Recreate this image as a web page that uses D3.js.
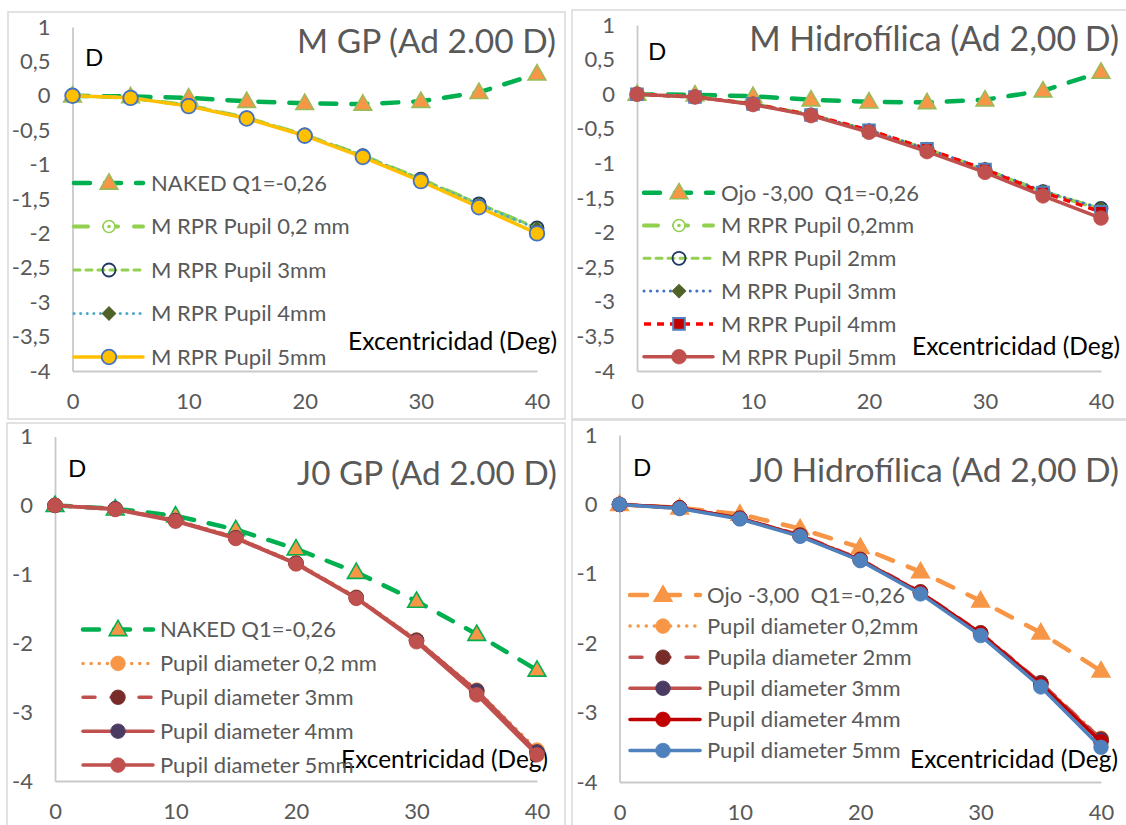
<!DOCTYPE html>
<html>
<head>
<meta charset="utf-8">
<script src="https://cdn.jsdelivr.net/npm/d3@7"></script>
<style>
  body { margin: 0; background: #fff; }
  svg { display: block; }
  text { font-family: Lato, "Noto Sans", sans-serif; }
</style>
</head>
<body>
<svg id="chart" width="1126" height="825"></svg>
<script>
// Eccentricity (degrees) sampled for every series
const eccentricity = [0, 5, 10, 15, 20, 25, 30, 35, 40];
const xTicks = [0, 10, 20, 30, 40];
const yTicksM = [1, 0.5, 0, -0.5, -1, -1.5, -2, -2.5, -3, -3.5, -4];
const yTicksJ0 = [1, 0, -1, -2, -3, -4];

// M, GP lens (Ad 2.00 D)
const mGpLabels = ["NAKED Q1=-0,26", "M RPR Pupil 0,2 mm", "M RPR Pupil 3mm", "M RPR Pupil 4mm", "M RPR Pupil 5mm"];
const mGpNaked   = [0, -0.01, -0.03, -0.08, -0.11, -0.12, -0.08, 0.05, 0.32];
const mGpPupil02 = [0, -0.03, -0.14, -0.32, -0.57, -0.87, -1.21, -1.57, -1.93];
const mGpPupil3  = [0, -0.03, -0.14, -0.32, -0.57, -0.87, -1.21, -1.57, -1.92];
const mGpPupil4  = [0, -0.03, -0.14, -0.32, -0.57, -0.87, -1.22, -1.58, -1.93];
const mGpPupil5  = [0, -0.03, -0.15, -0.33, -0.58, -0.89, -1.24, -1.62, -2.00];

// M, hydrophilic lens (Ad 2,00 D)
const mHidLabels = ["Ojo -3,00  Q1=-0,26", "M RPR Pupil 0,2mm", "M RPR Pupil 2mm", "M RPR Pupil 3mm", "M RPR Pupil 4mm", "M RPR Pupil 5mm"];
const mHidEye     = [0, -0.01, -0.03, -0.08, -0.11, -0.12, -0.08, 0.05, 0.32];
const mHidPupil02 = [0, -0.04, -0.14, -0.30, -0.53, -0.80, -1.09, -1.41, -1.66];
const mHidPupil2  = [0, -0.04, -0.14, -0.30, -0.53, -0.80, -1.09, -1.41, -1.65];
const mHidPupil3  = [0, -0.04, -0.14, -0.30, -0.52, -0.79, -1.08, -1.40, -1.65];
const mHidPupil4  = [0, -0.04, -0.14, -0.30, -0.52, -0.79, -1.09, -1.42, -1.70];
const mHidPupil5  = [0, -0.04, -0.15, -0.31, -0.55, -0.83, -1.13, -1.47, -1.79];

// J0, GP lens (Ad 2.00 D)
const j0GpLabels = ["NAKED Q1=-0,26", "Pupil diameter 0,2 mm", "Pupil diameter 3mm", "Pupil diameter 4mm", "Pupil diameter 5mm"];
const j0GpNaked   = [0, -0.05, -0.15, -0.35, -0.63, -0.97, -1.39, -1.87, -2.39];
const j0GpPupil02 = [0, -0.05, -0.21, -0.46, -0.83, -1.33, -1.95, -2.68, -3.55];
const j0GpPupil3  = [0, -0.05, -0.22, -0.47, -0.84, -1.34, -1.96, -2.70, -3.58];
const j0GpPupil4  = [0, -0.05, -0.22, -0.47, -0.84, -1.34, -1.96, -2.69, -3.58];
const j0GpPupil5  = [0, -0.06, -0.23, -0.48, -0.85, -1.35, -1.98, -2.75, -3.62];

// J0, hydrophilic lens (Ad 2,00 D)
const j0HidLabels = ["Ojo -3,00  Q1=-0,26", "Pupil diameter 0,2mm", "Pupila diameter 2mm", "Pupil diameter 3mm", "Pupil diameter 4mm", "Pupil diameter 5mm"];
const j0HidEye     = [0, -0.05, -0.14, -0.35, -0.62, -0.97, -1.39, -1.85, -2.40];
const j0HidPupil02 = [0, -0.05, -0.20, -0.44, -0.79, -1.26, -1.85, -2.57, -3.37];
const j0HidPupil2  = [0, -0.05, -0.20, -0.44, -0.79, -1.26, -1.85, -2.57, -3.38];
const j0HidPupil3  = [0, -0.05, -0.20, -0.45, -0.80, -1.27, -1.86, -2.58, -3.40];
const j0HidPupil4  = [0, -0.05, -0.20, -0.45, -0.80, -1.27, -1.86, -2.59, -3.42];
const j0HidPupil5  = [0, -0.06, -0.21, -0.46, -0.81, -1.29, -1.89, -2.63, -3.50];

// ---- series styles ----
const S = {
  nakedGreen:  { stroke: "#00B050", width: 4.5, dash: "16,15", cap: "round", marker: "triangle", fill: "#F79646", mStroke: "#9BBB59" },
  nakedGreen2: { stroke: "#00B050", width: 4.5, dash: "16,15", cap: "round", marker: "triangle", fill: "#F79646", mStroke: "#00B050" },
  eyeOrange:   { stroke: "#F79646", width: 4.5, dash: "17,16", cap: "round", marker: "triangle", fill: "#F79646", mStroke: "#F79646" },
  lgLong:      { stroke: "#92D050", width: 4,   dash: "14,16", cap: "round", marker: "ringDot", fill: "#fff", mStroke: "#92D050" },
  lgDash:      { stroke: "#92D050", width: 3,   dash: "6,6",   cap: "round", marker: "ring", fill: "none", mStroke: "#203864" },
  tealDot:     { stroke: "#4BACC6", width: 3,   dash: "0.1,6.5", cap: "round", marker: "diamond", fill: "#4F6228", mStroke: "#4F6228" },
  blueDot:     { stroke: "#4472C4", width: 3,   dash: "0.1,6.5", cap: "round", marker: "diamond", fill: "#4F6228", mStroke: "#4F6228" },
  yellow:      { stroke: "#FFC000", width: 3.5, dash: null, cap: "round", marker: "circle", fill: "#FFC000", mStroke: "#4472C4" },
  redDash:     { stroke: "#FF0000", width: 3.5, dash: "7,6", cap: "butt", marker: "square", fill: "#C00000", mStroke: "#4F81BD" },
  brickSolid:  { stroke: "#C0504D", width: 3.5, dash: null, cap: "round", marker: "circle", fill: "#C0504D", mStroke: "#C0504D" },
  orangeDot:   { stroke: "#F79646", width: 3.5, dash: "0.1,8", cap: "round", marker: "circle", fill: "#F79646", mStroke: "#F79646" },
  brickDash:   { stroke: "#C0504D", width: 3.5, dash: "12,16", cap: "round", marker: "circle", fill: "#772C2A", mStroke: "#772C2A" },
  brickPurple: { stroke: "#C0504D", width: 3.5, dash: null, cap: "round", marker: "circle", fill: "#4B3B62", mStroke: "#4B3B62" },
  darkRed:     { stroke: "#C00000", width: 3.5, dash: null, cap: "round", marker: "circle", fill: "#C00000", mStroke: "#C00000" },
  steelBlue:   { stroke: "#4F81BD", width: 3.5, dash: null, cap: "round", marker: "circle", fill: "#4F81BD", mStroke: "#4F81BD" }
};

const panels = [
  {
    title: "M GP (Ad 2.00 D)", frame: [8, 12, 557, 407],
    xRange: [72.5, 537], yRange: [371, 27], yTicks: yTicksM,
    titlePos: [556, 53, 259], dPos: [85, 66], xTitle: [557, 350, 209],
    legend: { x0: 74, x1: 143, mx: 109, tx: 151, y0: 183, dy: 43.5 },
    labels: mGpLabels,
    values: [mGpNaked, mGpPupil02, mGpPupil3, mGpPupil4, mGpPupil5],
    styles: [S.nakedGreen, S.lgLong, S.lgDash, S.tealDot, S.yellow]
  },
  {
    title: "M Hidrofílica (Ad 2,00 D)", frame: [572, 10, 570, 409],
    xRange: [637, 1101], yRange: [371, 25], yTicks: yTicksM,
    titlePos: [1119, 51, 370], dPos: [648, 60], xTitle: [1120, 355, 208],
    legend: { x0: 644, x1: 713, mx: 679, tx: 721, y0: 192.7, dy: 32.8 },
    labels: mHidLabels,
    values: [mHidEye, mHidPupil02, mHidPupil2, mHidPupil3, mHidPupil4, mHidPupil5],
    styles: [S.nakedGreen, S.lgLong, S.lgDash, S.blueDot, S.redDash, S.brickSolid]
  },
  {
    title: "J0 GP (Ad 2.00 D)", frame: [7, 423, 558, 420],
    xRange: [55, 537], yRange: [781, 436.5], yTicks: yTicksJ0,
    titlePos: [557, 485, 260], dPos: [68, 477], xTitle: [548, 768, 207],
    legend: { x0: 83, x1: 153, mx: 118, tx: 160, y0: 629.5, dy: 33.9 },
    labels: j0GpLabels,
    values: [j0GpNaked, j0GpPupil02, j0GpPupil3, j0GpPupil4, j0GpPupil5],
    styles: [S.nakedGreen2, S.orangeDot, S.brickDash, S.brickPurple, S.brickSolid]
  },
  {
    title: "J0 Hidrofílica (Ad 2,00 D)", frame: [572, 420, 570, 420],
    xRange: [619.5, 1101], yRange: [782, 435], yTicks: yTicksJ0,
    titlePos: [1119, 482, 370], dPos: [633, 476], xTitle: [1118, 768, 208],
    legend: { x0: 630, x1: 700, mx: 663, tx: 707, y0: 595, dy: 31.1 },
    labels: j0HidLabels,
    values: [j0HidEye, j0HidPupil02, j0HidPupil2, j0HidPupil3, j0HidPupil4, j0HidPupil5],
    styles: [S.eyeOrange, S.orangeDot, S.brickDash, S.brickPurple, S.darkRed, S.steelBlue]
  }
];

const svg = d3.select("#chart");
const decimalComma = d => String(d).replace(".", ",");

function drawMarker(g, st, cx, cy) {
  const m = g.append("g").attr("transform", `translate(${cx},${cy})`);
  switch (st.marker) {
    case "triangle":
      m.append("path").attr("d", d3.symbol(d3.symbolTriangle, 135)())
        .attr("transform", "translate(0,1)")
        .attr("fill", st.fill).attr("stroke", st.mStroke).attr("stroke-width", 1.6);
      break;
    case "ringDot":
      m.append("circle").attr("r", 6).attr("fill", st.fill).attr("stroke", st.mStroke).attr("stroke-width", 1.6);
      m.append("circle").attr("r", 1.8).attr("fill", st.mStroke);
      break;
    case "ring":
      m.append("circle").attr("r", 6.5).attr("fill", "none").attr("stroke", st.mStroke).attr("stroke-width", 1.8);
      break;
    case "diamond":
      m.append("path").attr("d", d3.symbol(d3.symbolSquare, 90)())
        .attr("transform", "rotate(45)").attr("fill", st.fill).attr("stroke", st.mStroke).attr("stroke-width", 1);
      break;
    case "square":
      m.append("path").attr("d", d3.symbol(d3.symbolSquare, 135)())
        .attr("fill", st.fill).attr("stroke", st.mStroke).attr("stroke-width", 2);
      break;
    default:
      m.append("circle").attr("r", 7.3).attr("fill", st.fill)
        .attr("stroke", st.mStroke).attr("stroke-width", st.mStroke === st.fill ? 0.8 : 1.8);
  }
}

function styleLine(sel, st) {
  sel.attr("fill", "none").attr("stroke", st.stroke).attr("stroke-width", st.width)
     .attr("stroke-linecap", st.cap).attr("stroke-linejoin", "round");
  if (st.dash) sel.attr("stroke-dasharray", st.dash);
  return sel;
}

// shrink or grow a text's font size so that it spans the given width
function fitWidth(sel, width) {
  const node = sel.node();
  const fs = parseFloat(sel.attr("font-size"));
  const w = node.getComputedTextLength();
  if (w > 0) sel.attr("font-size", (fs * width / w).toFixed(2));
}

panels.forEach(p => {
  const g = svg.append("g");

  g.append("rect")
    .attr("x", p.frame[0]).attr("y", p.frame[1])
    .attr("width", p.frame[2]).attr("height", p.frame[3])
    .attr("fill", "#fff").attr("stroke", "#D9D9D9").attr("stroke-width", 1.5);

  const x = d3.scaleLinear().domain([0, 40]).range(p.xRange);
  const y = d3.scaleLinear().domain([-4, 1]).range(p.yRange);

  const yAxis = g.append("g").attr("transform", `translate(${p.xRange[0]},0)`)
    .call(d3.axisLeft(y).tickValues(p.yTicks).tickSize(0).tickSizeOuter(0).tickPadding(22).tickFormat(decimalComma));
  const xAxis = g.append("g").attr("transform", `translate(0,${y(-4)})`)
    .call(d3.axisBottom(x).tickValues(xTicks).tickSize(0).tickSizeOuter(0).tickPadding(22).tickFormat(d3.format("d")));
  [yAxis, xAxis].forEach(a => {
    a.select(".domain").attr("stroke", "#C9C9C9").attr("stroke-width", 1.8);
    a.selectAll("text").attr("font-size", 22).attr("fill", "#595959")
      .attr("font-family", "Lato, 'Noto Sans', sans-serif");
  });

  // axis captions and title
  g.append("text").attr("x", p.dPos[0]).attr("y", p.dPos[1])
    .attr("font-size", 24).attr("fill", "#000").text("D");

  const xt = g.append("text").attr("x", p.xTitle[0]).attr("y", p.xTitle[1])
    .attr("text-anchor", "end").attr("font-size", 23).attr("fill", "#000")
    .text("Excentricidad (Deg)");
  fitWidth(xt, p.xTitle[2]);

  const tt = g.append("text").attr("x", p.titlePos[0]).attr("y", p.titlePos[1])
    .attr("text-anchor", "end").attr("font-size", 31).attr("fill", "#595959")
    .text(p.title);
  fitWidth(tt, p.titlePos[2]);

  // series
  const line = d3.line().x((d, i) => x(eccentricity[i])).y(d => y(d));
  p.values.forEach((vals, k) => {
    const st = p.styles[k];
    styleLine(g.append("path").datum(vals).attr("d", line), st);
    vals.forEach((v, i) => drawMarker(g, st, x(eccentricity[i]), y(v)));
  });

  // legend
  const L = p.legend;
  p.labels.forEach((lab, k) => {
    const st = p.styles[k];
    const ly = L.y0 + k * L.dy;
    styleLine(g.append("line").attr("x1", L.x0).attr("x2", L.x1).attr("y1", ly).attr("y2", ly), st);
    drawMarker(g, st, L.mx, ly);
    g.append("text").attr("x", L.tx).attr("y", ly).attr("dy", "0.36em")
      .attr("font-size", 22).attr("fill", "#595959")
      .style("white-space", "pre").text(lab);
  });
});
</script>
</body>
</html>
